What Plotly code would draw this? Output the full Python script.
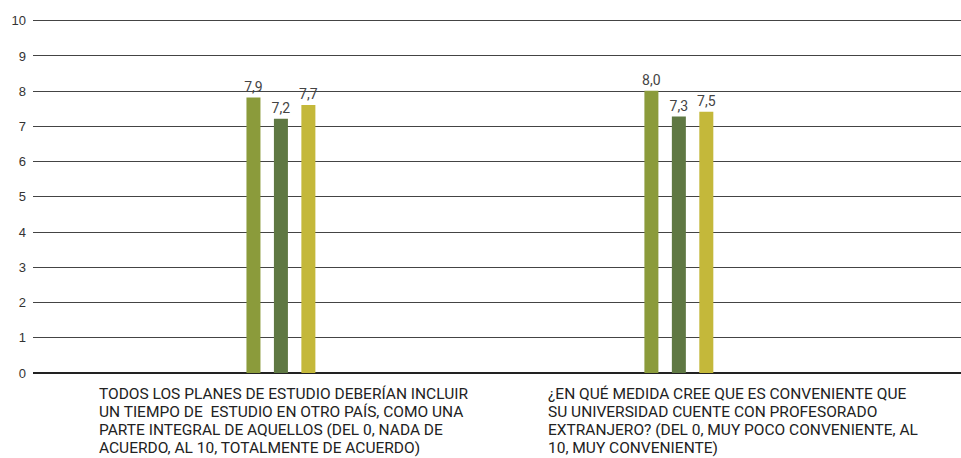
import plotly.graph_objects as go

categories = ["Q1", "Q2"]
category_labels = [
    ["TODOS LOS PLANES DE ESTUDIO DEBERÍAN INCLUIR",
     "UN TIEMPO DE  ESTUDIO EN OTRO PAÍS, COMO UNA",
     "PARTE INTEGRAL DE AQUELLOS (DEL 0, NADA DE",
     "ACUERDO, AL 10, TOTALMENTE DE ACUERDO)"],
    ["¿EN QUÉ MEDIDA CREE QUE ES CONVENIENTE QUE",
     "SU UNIVERSIDAD CUENTE CON PROFESORADO",
     "EXTRANJERO? (DEL 0, MUY POCO CONVENIENTE, AL",
     "10, MUY CONVENIENTE)"],
]
series1_values = [7.82, 8.01]
series2_values = [7.22, 7.28]
series3_values = [7.61, 7.42]
series1_labels = ["7,9", "8,0"]
series2_labels = ["7,2", "7,3"]
series3_labels = ["7,7", "7,5"]
y_ticks = [0, 1, 2, 3, 4, 5, 6, 7, 8, 9, 10]

colors = ["#8B9B3B", "#5F7843", "#C4B83A"]

fig = go.Figure()
for vals, labs, col in [
    (series1_values, series1_labels, colors[0]),
    (series2_values, series2_labels, colors[1]),
    (series3_values, series3_labels, colors[2]),
]:
    fig.add_trace(go.Bar(
        x=categories, y=vals, text=labs, textposition="outside",
        constraintext="none",
        marker=dict(color=col, line=dict(width=0)),
        textfont=dict(family="Roboto", size=14, color="#444444"),
        cliponaxis=False, showlegend=False,
    ))

annotations = []
for lines, xp in zip(category_labels, [0.069, 0.553]):
    for i, ln in enumerate(lines):
        annotations.append(dict(
            text=ln, x=xp, y=0, xref="paper", yref="paper",
            xanchor="left", yanchor="middle", yshift=-21 - 18 * i, align="left",
            showarrow=False, font=dict(family="Roboto", size=15.5, color="#222222"),
        ))

fig.update_layout(
    width=961, height=458,
    margin=dict(l=33, r=0, t=19, b=85, autoexpand=False),
    paper_bgcolor="white", plot_bgcolor="white",
    barmode="group", bargap=0.793, bargroupgap=0.49,
    annotations=annotations,
    xaxis=dict(range=[-0.623, 1.709], showticklabels=False, showgrid=False,
               zeroline=False, showline=False, ticks="", automargin=False),
    yaxis=dict(range=[0, 10.05], tickvals=y_ticks, showgrid=True,
               gridcolor="#444444", gridwidth=1, zeroline=True,
               zerolinecolor="#222222", zerolinewidth=1.5, automargin=False,
               showline=False, ticks="", ticklabelstandoff=6,
               tickfont=dict(family="Liberation Sans, Arial", size=13, color="#333333")),
)

fig.write_html("out.html", config={"displayModeBar": False},
               post_script="document.body.style.margin='0';")
